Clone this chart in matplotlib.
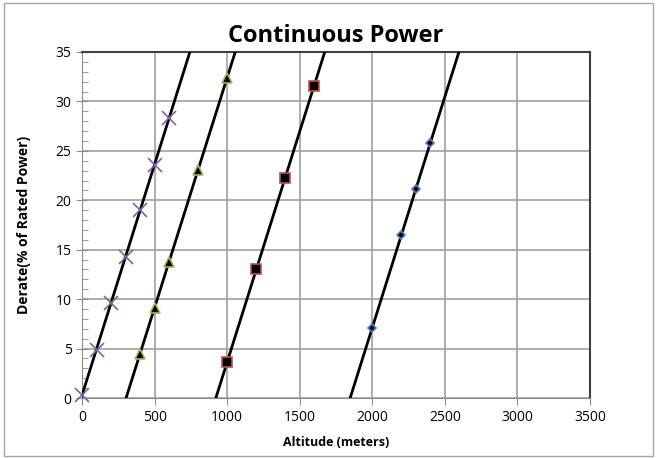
import numpy as np
import matplotlib.pyplot as plt
from matplotlib.ticker import MultipleLocator

plt.rcParams['font.family'] = ['Open Sans', 'DejaVu Sans']

# altitude (m) and derate (%)
alt1 = [0, 100, 200, 300, 400, 500, 600]
der1 = [0.3, 4.9, 9.6, 14.3, 19.0, 23.6, 28.3]

alt2 = [400, 500, 600, 800, 1000]
der2 = [4.5, 9.1, 13.8, 23.1, 32.4]

alt3 = [1000, 1200, 1400, 1600]
der3 = [3.6, 13.0, 22.3, 31.6]

alt4 = [2000, 2200, 2300, 2400]
der4 = [7.1, 16.5, 21.1, 25.8]

fig = plt.figure(figsize=(6.57, 4.58), dpi=100)
ax = fig.add_axes([0.1248, 0.131, 0.898 - 0.1248, 0.8865 - 0.131])

# outer chart border
fig.patches.append(plt.Rectangle((0.006, 0.004), 0.988, 0.989, transform=fig.transFigure,
                                 fill=False, edgecolor='#a6a6a6', linewidth=1))

series = [
    (alt1, der1, dict(marker='x', color='#8064A2', markersize=10, markeredgewidth=1.2)),
    (alt2, der2, dict(marker='^', markerfacecolor='black', markeredgecolor='#9BBB59', markersize=7, markeredgewidth=1.2)),
    (alt3, der3, dict(marker='s', markerfacecolor='black', markeredgecolor='#C0504D', markersize=7, markeredgewidth=1.2)),
    (alt4, der4, dict(marker='D', markerfacecolor='black', markeredgecolor='#4F81BD', markersize=4.5, markeredgewidth=1.2)),
]

for xs, ys, style in series:
    # linear trendline, from y=0 up past the top
    m, b = np.polyfit(xs, ys, 1)
    tx = np.array([-b / m, (37 - b) / m])
    ax.plot(tx, m * tx + b, color='black', linewidth=2, zorder=3)
    ax.plot(xs, ys, linestyle='none', zorder=4, clip_on=False, **style)

ax.set_xlim(0, 3500)
ax.set_ylim(0, 35)
ax.xaxis.set_major_locator(MultipleLocator(500))
ax.yaxis.set_major_locator(MultipleLocator(5))
ax.yaxis.set_minor_locator(MultipleLocator(1))
ax.grid(True, which='major', color='#a0a0a0', linewidth=1.2)
ax.set_axisbelow(True)

ax.tick_params(axis='both', which='major', length=5, color='#8c8c8c', labelsize=10, direction='out')
ax.tick_params(axis='y', which='minor', length=4, color='#8c8c8c', direction='in')
ax.tick_params(axis='y', which='major', direction='inout', length=8)

for s in ['left', 'bottom']:
    ax.spines[s].set_color('#8c8c8c')
for s in ['top', 'right']:
    ax.spines[s].set_color('#404040')
    ax.spines[s].set_linewidth(1.5)

ax.set_title('Continuous Power', fontsize=17, fontweight='bold', pad=7)
ax.set_xlabel('Altitude (meters)', fontsize=9, fontweight='bold', labelpad=8)
ax.set_ylabel('Derate(% of Rated Power)', fontsize=10, fontweight='bold', labelpad=18)

plt.savefig('out.png', dpi=100)
